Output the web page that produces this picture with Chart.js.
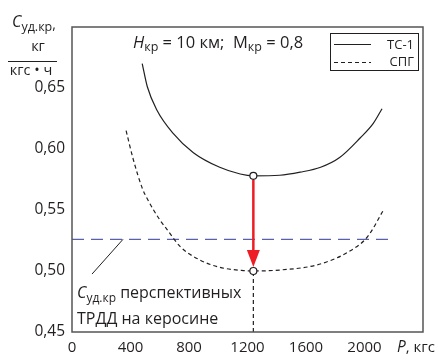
<!DOCTYPE html>
<html>
<head>
<meta charset="utf-8">
<script src="https://cdn.jsdelivr.net/npm/chart.js@4"></script>
<style>
  body { margin: 0; background: #fff; }
  canvas { display: block; }
</style>
</head>
<body>
<canvas id="chart" width="443" height="356"></canvas>
<script>
// thrust P, kgf and cruise specific fuel consumption
const seriesNames = ['ТС-1', 'СПГ'];
const tc1P = [480, 515, 580, 690, 830, 1010, 1150, 1240, 1420, 1560, 1700, 1830, 1970, 2060, 2120];
const tc1C = [0.670, 0.651, 0.632, 0.613, 0.597, 0.585, 0.5795, 0.578, 0.5785, 0.581, 0.585, 0.593, 0.609, 0.621, 0.633];
const spgP = [370, 420, 480, 520, 600, 650, 740, 875, 1010, 1160, 1240, 1440, 1675, 1880, 2020, 2130];
const spgC = [0.615, 0.591, 0.568, 0.558, 0.542, 0.534, 0.520, 0.509, 0.503, 0.5005, 0.500, 0.501, 0.505, 0.515, 0.528, 0.550];

const minP = 1240;
const tc1Min = 0.578;
const spgMin = 0.500;

const keroseneLevel = 0.526;
const keroseneEnd = 2180;
const leaderP = [349, 137];
const leaderC = [0.526, 0.4975];

const xTicks = [0, 400, 800, 1200, 1600, 2000];
const yTicks = [0.45, 0.50, 0.55, 0.60, 0.65];

const FF = '"Open Sans", sans-serif';
const INK = '#231f20';

const toPoints = (xs, ys) => xs.map((x, i) => ({ x: x, y: ys[i] }));

function drawRuns(ctx, x, y, runs) {
  for (const r of runs) {
    ctx.font = r.font;
    ctx.fillText(r.text, x, y + (r.dy || 0));
    x += ctx.measureText(r.text).width;
  }
  return x;
}

const decorations = {
  id: 'decorations',
  beforeDatasetDraw(chart, args) {
    // red arrow goes under the circle markers
    if (chart.data.datasets[args.index].label !== 'markers') return;
    const { ctx, scales: { x, y } } = chart;
    const px = x.getPixelForValue(minP);
    const yTop = y.getPixelForValue(tc1Min) + 4;
    const yTip = y.getPixelForValue(spgMin) - 4;
    ctx.save();
    ctx.strokeStyle = '#ee1c25';
    ctx.fillStyle = '#ee1c25';
    ctx.lineWidth = 2.5;
    ctx.beginPath();
    ctx.moveTo(px, yTop);
    ctx.lineTo(px, yTip - 14);
    ctx.stroke();
    ctx.beginPath();
    ctx.moveTo(px - 6.5, yTip - 17);
    ctx.lineTo(px + 6.5, yTip - 17);
    ctx.lineTo(px, yTip);
    ctx.closePath();
    ctx.fill();
    ctx.restore();
  },
  afterDraw(chart) {
    const { ctx, chartArea: a } = chart;
    ctx.save();
    // frame
    ctx.strokeStyle = '#555';
    ctx.lineWidth = 1.5;
    ctx.strokeRect(a.left, a.top, a.right - a.left, a.bottom - a.top);

    ctx.fillStyle = INK;
    ctx.textAlign = 'left';
    ctx.textBaseline = 'alphabetic';

    // title
    drawRuns(ctx, 133, 48, [
      { text: 'H', font: `italic 16.5px ${FF}` },
      { text: 'кр', font: `12.5px ${FF}`, dy: 3 },
      { text: ' = 10 км;  M', font: `16.5px ${FF}` },
      { text: 'кр', font: `12.5px ${FF}`, dy: 3 },
      { text: ' = 0,8', font: `16.5px ${FF}` }
    ]);

    // y axis title
    drawRuns(ctx, 12, 27, [
      { text: 'C', font: `italic 16px ${FF}` },
      { text: 'уд.кр', font: `12.5px ${FF}`, dy: 4 },
      { text: ',', font: `14px ${FF}`, dy: 2 }
    ]);
    ctx.font = `14.5px ${FF}`;
    ctx.textAlign = 'center';
    ctx.fillText('кг', 38, 51);
    ctx.fillText('кгс • ч', 31, 75);
    ctx.textAlign = 'left';
    ctx.strokeStyle = INK;
    ctx.lineWidth = 1;
    ctx.beginPath();
    ctx.moveTo(8, 61.5);
    ctx.lineTo(57, 61.5);
    ctx.stroke();

    // x axis title
    drawRuns(ctx, 397, 352, [
      { text: 'P', font: `italic 15.5px ${FF}` },
      { text: ', кгс', font: `15px ${FF}` }
    ]);

    // annotation
    drawRuns(ctx, 77, 298, [
      { text: 'C', font: `italic 16px ${FF}` },
      { text: 'уд.кр', font: `12px ${FF}`, dy: 4 },
      { text: ' перспективных', font: `16px ${FF}` }
    ]);
    ctx.font = `16px ${FF}`;
    ctx.fillText('ТРДД на керосине', 77, 324);

    // legend
    ctx.strokeStyle = INK;
    ctx.lineWidth = 1;
    ctx.strokeRect(330.5, 33.5, 88, 37);
    ctx.beginPath();
    ctx.moveTo(334, 44.5);
    ctx.lineTo(371, 44.5);
    ctx.stroke();
    ctx.setLineDash([4, 3]);
    ctx.beginPath();
    ctx.moveTo(334, 62.5);
    ctx.lineTo(371, 62.5);
    ctx.stroke();
    ctx.setLineDash([]);
    ctx.font = `13px ${FF}`;
    ctx.textAlign = 'right';
    ctx.fillText(seriesNames[0], 414, 49);
    ctx.fillText(seriesNames[1], 414, 66);
    ctx.restore();
  }
};

const ctx = document.getElementById('chart');
new Chart(ctx, {
  type: 'line',
  data: {
    datasets: [
      {
        label: 'markers',
        data: [{ x: minP, y: tc1Min }, { x: minP, y: spgMin }],
        showLine: false,
        pointRadius: 3.5,
        pointBackgroundColor: '#fff',
        pointBorderColor: INK,
        pointBorderWidth: 1.2,
        order: -1
      },
      {
        label: seriesNames[0],
        data: toPoints(tc1P, tc1C),
        borderColor: INK,
        borderWidth: 1.2,
        pointRadius: 0,
        cubicInterpolationMode: 'monotone'
      },
      {
        label: seriesNames[1],
        data: toPoints(spgP, spgC),
        borderColor: INK,
        borderWidth: 1.2,
        borderDash: [4, 3],
        pointRadius: 0,
        cubicInterpolationMode: 'monotone'
      },
      {
        label: 'kerosene',
        data: [{ x: 0, y: keroseneLevel }, { x: keroseneEnd, y: keroseneLevel }],
        borderColor: '#5a60ad',
        borderWidth: 1.3,
        borderDash: [12, 7],
        pointRadius: 0
      },
      {
        label: 'leader',
        data: toPoints(leaderP, leaderC),
        borderColor: INK,
        borderWidth: 1,
        pointRadius: 0
      },
      {
        label: 'drop',
        data: [{ x: minP, y: 0.45 }, { x: minP, y: spgMin }],
        borderColor: INK,
        borderWidth: 1.2,
        borderDash: [4, 3],
        pointRadius: 0
      }
    ]
  },
  options: {
    responsive: false,
    animation: false,
    devicePixelRatio: 1,
    layout: { padding: { top: 27, right: 20, left: 0, bottom: 0 } },
    plugins: {
      legend: { display: false },
      tooltip: { enabled: false }
    },
    scales: {
      x: {
        type: 'linear',
        min: 0,
        max: 2400,
        afterBuildTicks: (s) => { s.ticks = xTicks.map(v => ({ value: v })); },
        afterFit: (s) => { s.height = 24; },
        grid: { display: false, drawTicks: false },
        border: { display: false },
        ticks: {
          padding: 7,
          color: INK,
          font: { family: FF, size: 15 },
          callback: (v) => String(v)
        }
      },
      y: {
        type: 'linear',
        min: 0.45,
        max: 0.70,
        afterBuildTicks: (s) => { s.ticks = yTicks.map(v => ({ value: v })); },
        afterFit: (s) => { s.width = 72; },
        grid: { display: false, drawTicks: false },
        border: { display: false },
        ticks: {
          padding: 7,
          color: INK,
          font: { family: FF, size: 15.5 },
          callback: (v) => v.toFixed(2).replace('.', ',')
        }
      }
    }
  },
  plugins: [decorations]
});
</script>
</body>
</html>
